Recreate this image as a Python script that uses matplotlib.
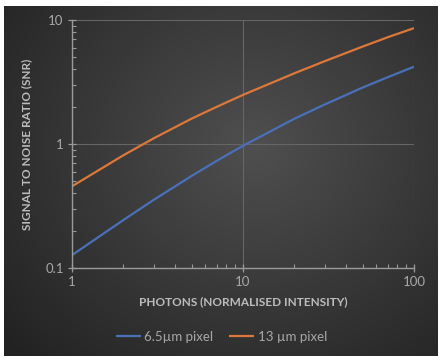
import numpy as np
import matplotlib
matplotlib.use("Agg")
import matplotlib.pyplot as plt
from matplotlib.ticker import LogLocator, NullFormatter, FixedLocator, FixedFormatter

photons = [1, 2, 3, 5, 7, 10, 20, 30, 50, 70, 100]
snr_65 = [0.127, 0.244, 0.354, 0.552, 0.730, 0.967, 1.60, 2.08, 2.85, 3.45, 4.2]
snr_13 = [0.456, 0.812, 1.11, 1.60, 1.99, 2.49, 3.72, 4.65, 6.10, 7.25, 8.6]
series_labels = ["6.5µm pixel", "13 µm pixel"]
series_colors = ["#4a70b8", "#dc783a"]
xticks = [1, 10, 100]
xticklabels = ["1", "10", "100"]
yticks = [0.1, 1, 10]
yticklabels = ["0.1", "1", "10"]

plt.rcParams['font.family'] = ['Lato', 'DejaVu Sans']

W, H = 443, 361
fig = plt.figure(figsize=(W / 100, H / 100), dpi=100)
fig.patch.set_facecolor("white")

# background panel with radial gradient
bg = fig.add_axes([4 / W, 1 - 356 / H, 434 / W, 350 / H])
bg.set_axis_off()
yy, xx = np.mgrid[0:350, 0:434]
cx, cy = 250, 140
d = np.sqrt(((xx - cx) / 330) ** 2 + ((yy - cy) / 300) ** 2)
d = np.clip(d, 0, 1)
c_in = np.array([0x4f, 0x4f, 0x4f]) / 255
c_out = np.array([0x22, 0x22, 0x22]) / 255
img = c_in[None, None, :] * (1 - d[..., None]) + c_out[None, None, :] * d[..., None]
bg.imshow(img, aspect="auto", extent=[0, 1, 0, 1], interpolation="bilinear")

ax = fig.add_axes([72 / W, 1 - 268 / H, 342 / W, 248 / H])
ax.patch.set_alpha(0)
ax.set_xscale("log")
ax.set_yscale("log")
ax.set_xlim(1, 100)
ax.set_ylim(0.1, 10)

for ys, lab, col in zip([snr_65, snr_13], series_labels, series_colors):
    ax.plot(photons, ys, color=col, lw=1.6, label=lab, solid_capstyle="butt")

ax.xaxis.set_major_locator(FixedLocator(xticks))
ax.xaxis.set_major_formatter(FixedFormatter(xticklabels))
ax.yaxis.set_major_locator(FixedLocator(yticks))
ax.yaxis.set_major_formatter(FixedFormatter(yticklabels))
ax.xaxis.set_minor_locator(LogLocator(base=10, subs=np.arange(2, 10)))
ax.yaxis.set_minor_locator(LogLocator(base=10, subs=np.arange(2, 10)))
ax.xaxis.set_minor_formatter(NullFormatter())
ax.yaxis.set_minor_formatter(NullFormatter())

ax.grid(True, which="major", color="#666666", lw=0.8)
for s in ["top", "right"]:
    ax.spines[s].set_visible(False)
for s in ["left", "bottom"]:
    ax.spines[s].set_color("#9a9a9a")
    ax.spines[s].set_linewidth(1.0)
ax.tick_params(which="major", direction="inout", length=6, width=0.9, color="#9a9a9a",
               labelcolor="#a8a8a8", labelsize=9.5)
ax.tick_params(which="minor", direction="in", length=3, width=0.8, color="#9a9a9a")
ax.tick_params(axis="x", which="major", pad=3)
ax.tick_params(axis="y", which="major", pad=3)

ax.set_xlabel("PHOTONS (NORMALISED INTENSITY)", color="#bdbdbd", fontsize=8.5,
              fontweight="bold", labelpad=6)
ax.set_ylabel("SIGNAL TO NOISE RATIO (SNR)", color="#bdbdbd", fontsize=8.5,
              fontweight="bold", labelpad=9)

leg = fig.legend(loc="center", bbox_to_anchor=(0.5, 1 - 337 / H), ncol=2, frameon=False,
                 fontsize=9.5, labelcolor="#a8a8a8", handlelength=1.9, handletextpad=0.25,
                 columnspacing=1.2)

fig.savefig("out.png", dpi=100, facecolor=fig.get_facecolor())
